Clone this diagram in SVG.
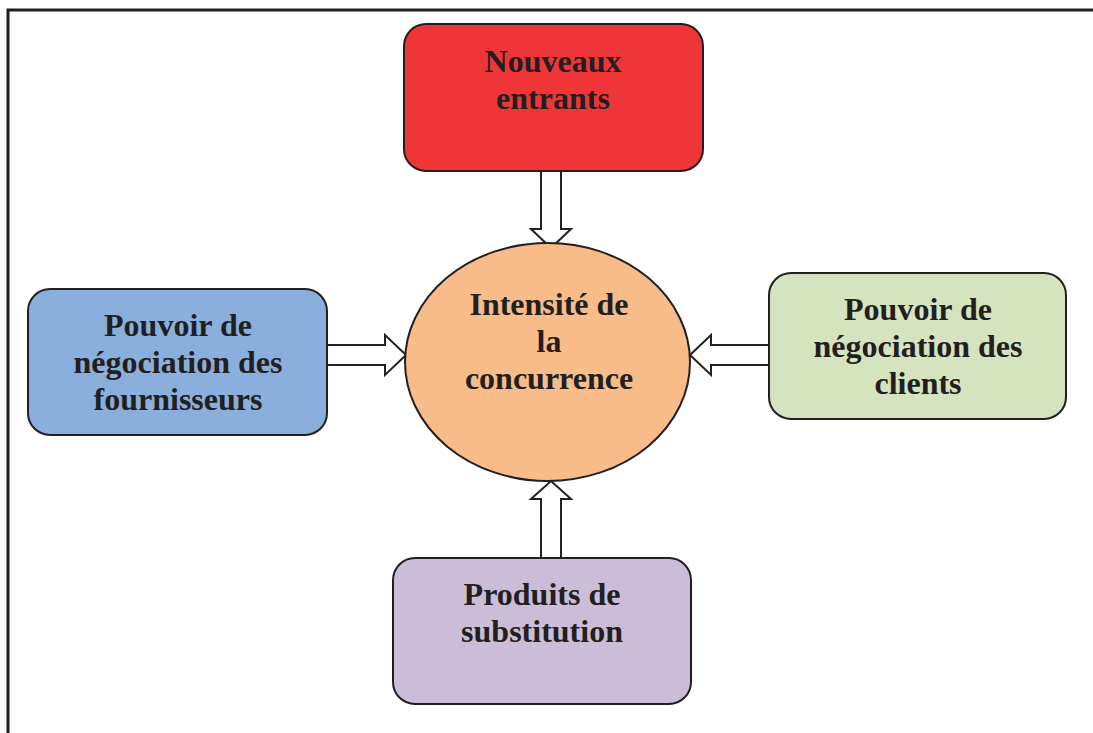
<svg xmlns="http://www.w3.org/2000/svg" width="1093" height="733" viewBox="0 0 1093 733">
<style>
.box{stroke:#231f20;stroke-width:2}
.arr{fill:#fff;stroke:#231f20;stroke-width:2;stroke-linejoin:miter}
text{font-family:"Liberation Serif","Times New Roman",serif;font-weight:bold;font-size:32px;fill:#231f20;text-anchor:middle}
</style>
<rect x="0" y="0" width="1093" height="733" fill="#fff"/>
<path d="M8,733 V10 H1093" fill="none" stroke="#231f20" stroke-width="3"/>
<g id="connectors">
<path class="arr" d="M541,171 V229 H531 L551,248 L571,229 H561 V171"/>
<path class="arr" d="M327,345 H385 V335 L406,355 L385,375 V365 H327"/>
<path class="arr" d="M769,345 H711 V335 L690,355 L711,375 V365 H769"/>
<path class="arr" d="M541,558 V499 H531 L551,481 L571,499 H561 V558"/>
</g>
<g id="nouveaux">
<rect class="box" x="404" y="24" width="299" height="147" rx="22" fill="#ee3638"/>
<text x="553" y="72">Nouveaux</text>
<text x="553" y="109">entrants</text>
</g>
<g id="fournisseurs">
<rect class="box" x="28" y="289" width="299" height="146" rx="22" fill="#8aafdc"/>
<text x="178" y="336">Pouvoir de</text>
<text x="178" y="373">négociation des</text>
<text x="178" y="410">fournisseurs</text>
</g>
<g id="concurrence">
<ellipse class="box" cx="547.5" cy="362" rx="142.5" ry="119" fill="#f8bc8a"/>
<text x="549" y="315">Intensité de</text>
<text x="549" y="352">la</text>
<text x="549" y="389">concurrence</text>
</g>
<g id="clients">
<rect class="box" x="769" y="273" width="297" height="146" rx="22" fill="#d5e3bf"/>
<text x="918" y="320">Pouvoir de</text>
<text x="918" y="357">négociation des</text>
<text x="918" y="394">clients</text>
</g>
<g id="substitution">
<rect class="box" x="393" y="558" width="298" height="146" rx="22" fill="#cbbdd7"/>
<text x="542" y="605">Produits de</text>
<text x="542" y="642">substitution</text>
</g>
</svg>
